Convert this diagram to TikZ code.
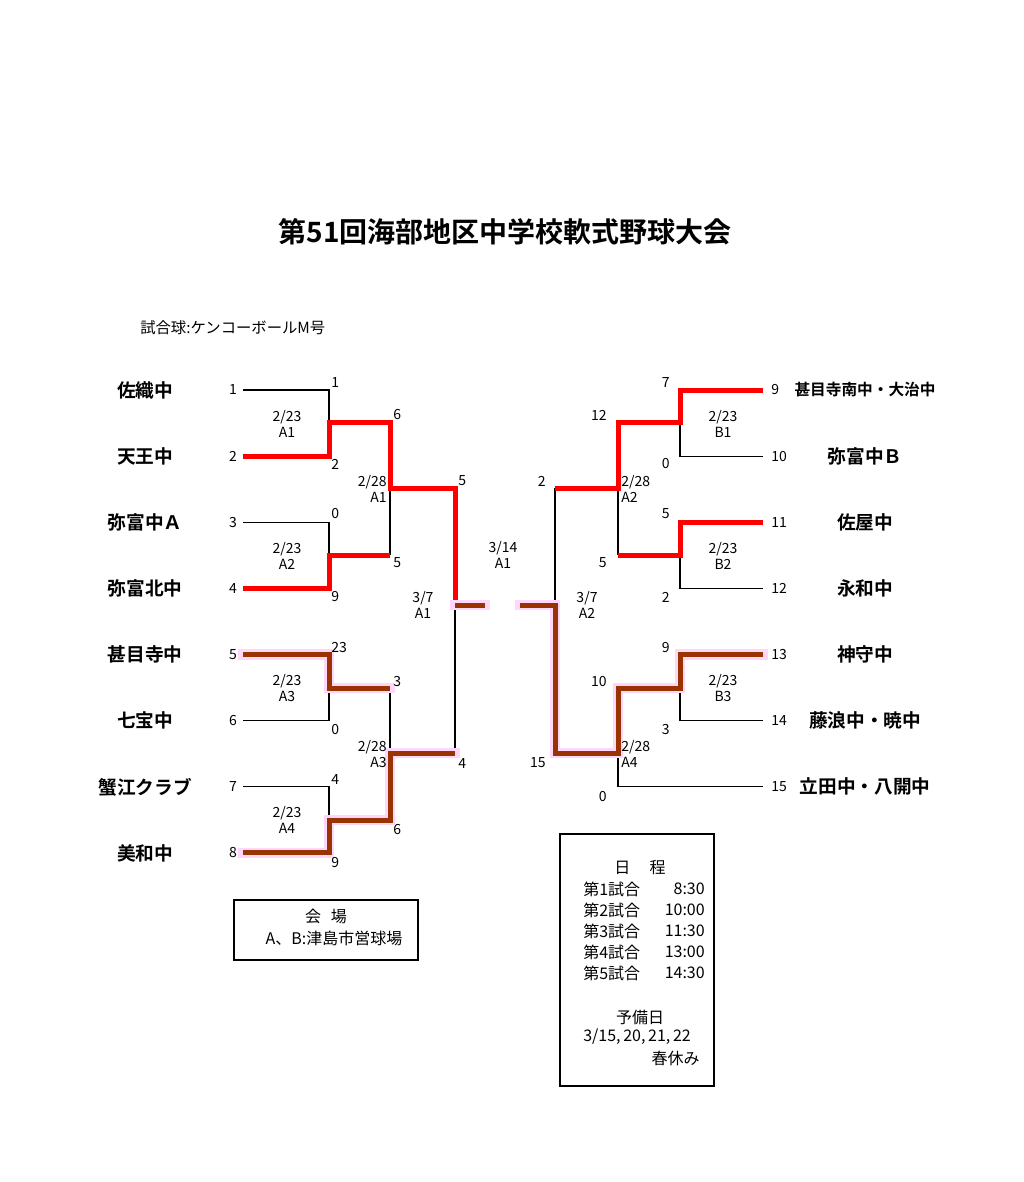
\documentclass[tikz,border=0pt]{standalone}
\usepackage{fontspec}
\setmainfont{Noto Sans CJK JP}[BoldFont={Noto Sans CJK JP Bold}]
\usetikzlibrary{positioning}
\definecolor{winred}{RGB}{255,0,0}
\definecolor{finalbrown}{RGB}{153,51,0}
\definecolor{glow}{RGB}{255,215,250}
\newcommand{\smallteam}{\fontsize{11.75}{13}\selectfont}

\begin{document}
\begin{tikzpicture}[x=0.75pt, y=-0.75pt,
    every node/.style={inner sep=0pt, font=\fontsize{10.5}{12}\selectfont},
    team/.style={font=\fontsize{14}{16}\bfseries\selectfont},
    score/.style={font=\fontsize{10.5}{12}\selectfont},
    game/.style={align=center, font=\fontsize{10.5}{11.5}\selectfont},
    note/.style={font=\fontsize{12}{14}\selectfont},
    lose/.style={black, line width=0.9pt},
    redwin/.style={winred, line width=3.75pt},
    brownwin/.style={finalbrown, line width=3.75pt,
        preaction={draw=glow, line width=8pt, line cap=rect}},
    box/.style={black, line width=0.9pt}]
    \fill[white] (0,0) rectangle (1024,1182);
    \useasboundingbox (0,0) rectangle (1024,1182);

    \node[font=\fontsize{21}{24}\bfseries\selectfont] (title) at (505,232) {第51回海部地区中学校軟式野球大会};
    \node[anchor=west, font=\fontsize{11.5}{13}\selectfont] (ball) at (140,328) {試合球:ケンコーボールM号};

    \foreach \name [count=\i] in {佐織中,天王中,弥富中Ａ,弥富北中,甚目寺中,七宝中,蟹江クラブ,美和中} {
        \pgfmathsetmacro\y{390+(\i-1)*66.14}
        \node[team] (tL\i) at (145,\y) {\name};
        \node[score] (sL\i) at (233,\y) {\i};
        \coordinate (pL\i) at (243,\y);
    }
    \foreach \name [count=\i from 9] in {{\smallteam 甚目寺南中・大治中},弥富中Ｂ,佐屋中,永和中,神守中,藤浪中・暁中,立田中・八開中} {
        \pgfmathsetmacro\y{390+(\i-9)*66.14}
        \node[team] (tR\i) at (865,\y) {\name};
        \node[score, anchor=west] (sR\i) at (771,\y) {\i};
        \coordinate (pR\i) at (763,\y);
    }

    \coordinate (m1) at (329,422);
    \coordinate (m2) at (329,555);
    \coordinate (m3) at (329,688);
    \coordinate (m4) at (329,820);
    \coordinate (q1) at (390,488);
    \coordinate (q2) at (390,753);
    \coordinate (f1) at (455,605);
    \coordinate (cL) at (485,605);
    \coordinate (n1) at (680,422);
    \coordinate (n2) at (680,555);
    \coordinate (n3) at (680,688);
    \coordinate (q3) at (618,488);
    \coordinate (q4) at (618,753);
    \coordinate (f2) at (555,605);
    \coordinate (cR) at (520,605);

    \draw[lose] (pL1) -| (m1);
    \draw[lose] (pL3) -| (m2);
    \draw[lose] (pL6) -| (m3);
    \draw[lose] (pL7) -| (m4);
    \draw[lose] (q1) -- (m2 -| q1);
    \draw[lose] (m3 -| q2) -- (q2);
    \draw[lose] (f1) -- (q2 -| f1);
    \draw[lose] (pR10) -| (n1);
    \draw[lose] (pR12) -| (n2);
    \draw[lose] (pR14) -| (n3);
    \draw[lose] (pR15) -| (q4);
    \draw[lose] (q3) -- (n2 -| q3);
    \draw[lose] (f2) -- (q3 -| f2);

    \draw[redwin] (pL2) -| (m1) -- (m1 -| q1) -- (q1) -- (q1 -| f1) -- (f1);
    \draw[redwin] (pL4) -| (m2) -- (m2 -| q1);
    \draw[redwin] (pR9) -| (n1) -- (n1 -| q3) -- (q3) -- (q3 -| f2);
    \draw[redwin] (pR11) -| (n2) -- (n2 -| q3);

    \draw[brownwin] (pL5) -| (m3) -- (m3 -| q2);
    \draw[brownwin] (pL8) -| (m4) -- (m4 -| q2) -- (q2) -- (q2 -| f1);
    \draw[brownwin] (f1) -- (cL);
    \draw[brownwin] (pR13) -| (n3) -- (n3 -| q4) -- (q4) -- (q4 -| f2) -- (f2) -- (cR);

    \foreach \x/\y/\s [count=\k] in {331/383/1, 331/464/2, 331/514/0, 331/597/9,
        331/647/23, 331/729/0, 331/779/4, 331/862/9,
        393/415/6, 393/563/5, 393/681/3, 393/829/6, 458/481/5, 458/763/4} {
        \node[score, anchor=west] (kL\k) at (\x,\y) {\s};
    }
    \foreach \x/\y/\s [count=\k] in {670/383/7, 670/464/0, 670/514/5, 670/597/2,
        670/647/9, 670/729/3,
        607/415/12, 607/563/5, 607/681/10, 607/796/0, 546/481/2, 546/763/15} {
        \node[score, anchor=east] (kR\k) at (\x,\y) {\s};
    }

    \foreach \x/\y/\mo/\dy/\g [count=\k] in {287/424/2/23/A1, 287/556/2/23/A2,
        287/688/2/23/A3, 287/820/2/23/A4, 423/605/3/7/A1, 503/555/3/14/A1,
        587/605/3/7/A2, 723/424/2/23/B1, 723/556/2/23/B2, 723/688/2/23/B3} {
        \node[game] (g\k) at (\x,\y) {\mo/\dy\\\g};
    }
    \node[game, align=right, anchor=east] (gA1) at (387,489) {2/28\\A1};
    \node[game, align=right, anchor=east] (gA3) at (387,754) {2/28\\A3};
    \node[game, align=left, anchor=west] (gA2) at (621,489) {2/28\\A2};
    \node[game, align=left, anchor=west] (gA4) at (621,754) {2/28\\A4};

    \coordinate (v1) at (234,900);
    \coordinate (v2) at (418,960);
    \draw[box] (v1) rectangle (v2);
    \node[note] (venue) at (326,916) {会\hspace{0.6em}場};
    \node[note] (field) at (334,938) {A、B:津島市営球場};

    \coordinate (d1) at (560,834);
    \coordinate (d2) at (714,1086);
    \draw[box] (d1) rectangle (d2);
    \node[note] (sched) at (640,868) {日\hspace{1.2em}程};
    \foreach \num/\t in {1/8:30, 2/10:00, 3/11:30, 4/13:00, 5/14:30} {
        \pgfmathsetmacro\y{889+(\num-1)*21}
        \node[note, anchor=west] (r\num) at (583,\y) {第{\num}試合};
        \node[note, anchor=east] (h\num) at (705,\y) {\t};
    }
    \node[note] (spare) at (640,1017) {予備日};
    \node[note, anchor=west] (days) at (583,1037) {3/15,\,20,\,21,\,22};
    \node[note, anchor=east] (rest) at (700,1058) {春休み};
\end{tikzpicture}
\end{document}
